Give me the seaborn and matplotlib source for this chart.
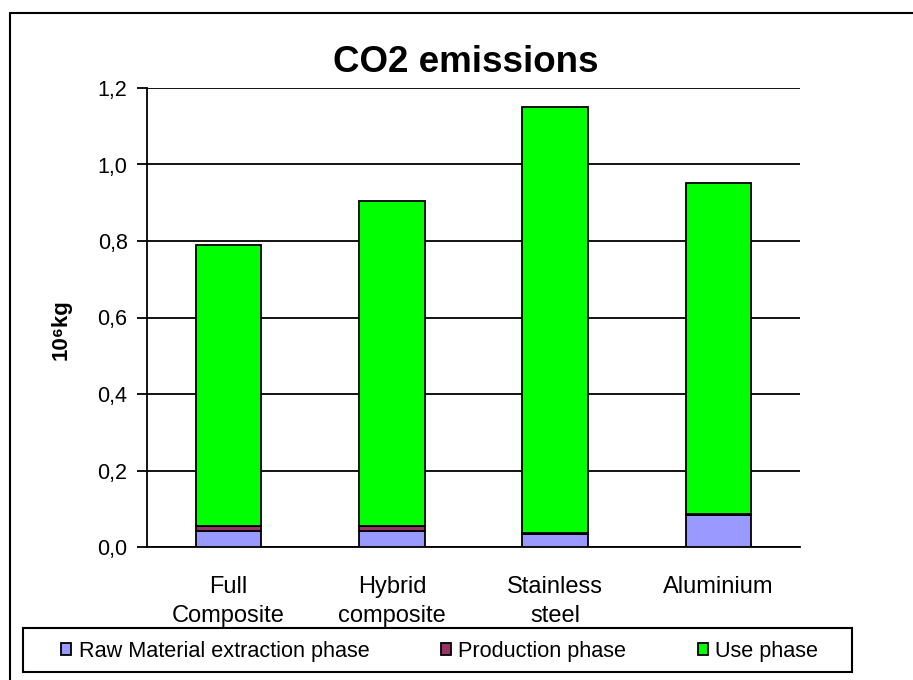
import matplotlib
matplotlib.use("Agg")
import matplotlib.pyplot as plt
from matplotlib.patches import Patch, Rectangle
from matplotlib.lines import Line2D
from matplotlib.ticker import FuncFormatter, MultipleLocator
import seaborn as sns
import pandas as pd
import numpy as np

# ---- data ----
categories = ["Full\nComposite", "Hybrid\ncomposite", "Stainless\nsteel", "Aluminium"]
raw_material = [0.041, 0.041, 0.035, 0.084]
production = [0.015, 0.015, 0.001, 0.001]
use_phase = [0.733, 0.849, 1.114, 0.867]
series_names = ["Raw Material extraction phase", "Production phase", "Use phase"]
series_colors = ["#9999FF", "#993366", "#00FF00"]
title = "CO2 emissions"
ylabel = "10\u2076kg"

sns.set_style("white")
plt.rcParams["font.family"] = ["Liberation Sans", "DejaVu Sans"]
plt.rcParams.update({"text.color": "black", "axes.labelcolor": "black",
                     "xtick.color": "black", "ytick.color": "black"})

df = pd.DataFrame({
    "cat": categories,
    "raw": raw_material,
    "prod": production,
    "use": use_phase,
})

W, H = 913, 680
fig = plt.figure(figsize=(W / 100, H / 100), dpi=100)
ax = fig.add_axes([147 / W, 1 - 547 / H, 653 / W, 459 / H])

bottom = np.zeros(len(categories))
for col, name, color in zip(["raw", "prod", "use"], series_names, series_colors):
    sns.barplot(data=df, x="cat", y=col, order=categories, color=color,
                saturation=1, width=0.4, errorbar=None, bottom=bottom,
                edgecolor="black", linewidth=1.3, ax=ax, zorder=3)
    bottom = bottom + df[col].to_numpy()

ax.set_ylim(0, 1.2)
ax.set_xlim(-0.5, len(categories) - 0.5)
ax.yaxis.set_major_locator(MultipleLocator(0.2))
ax.yaxis.set_major_formatter(FuncFormatter(lambda v, _: f"{v:.1f}".replace(".", ",")))
ax.grid(axis="y", color="black", linewidth=1.3, zorder=0)
ax.grid(axis="x", visible=False)
ax.set_axisbelow(True)

for s in ["top", "right"]:
    ax.spines[s].set_visible(False)
for s in ["left", "bottom"]:
    ax.spines[s].set_color("black")
    ax.spines[s].set_linewidth(1.3)

# ticks
ax.set_xticks(range(len(categories)))
ax.set_xticklabels(categories, fontsize=17, linespacing=1.38, color="black")
ax.tick_params(axis="x", which="major", length=0, pad=21)
ax.set_xticks(np.arange(-0.5, len(categories), 1.0), minor=True)
ax.tick_params(axis="x", which="minor", length=7, width=1.3, color="black", direction="out")
ax.tick_params(axis="y", length=7, width=1.3, color="black", direction="out",
               labelsize=15.5, labelcolor="black", pad=7, left=True)
ax.set_xlabel("")
ax.set_ylabel(ylabel, fontsize=16, fontweight="bold", color="black")
ax.yaxis.set_label_coords((72 - 147) / 653, (547 - 330) / 459)

fig.text(466 / W, 1 - 72 / H, title, fontsize=26.5, fontweight="bold",
         ha="center", va="baseline", color="black")

# legend frame and entries
fig.add_artist(Rectangle((23 / W, 1 - 672 / H), 829 / W, 44 / H, transform=fig.transFigure,
                         facecolor="white", edgecolor="black", linewidth=1.5, zorder=5))
handles = [Patch(facecolor=c, edgecolor="black", linewidth=1.3) for c in series_colors]
leg = fig.legend(handles, series_names, loc="center left",
                 bbox_to_anchor=(61 / W, 1 - 651 / H), ncol=3, fontsize=15.6,
                 frameon=False, handlelength=0.48, handleheight=0.48,
                 handletextpad=0.33, borderaxespad=0, borderpad=0,
                 columnspacing=3.3, labelcolor="black")
leg.set_zorder(6)

# outer chart border (only left and top visible within the image)
fig.add_artist(Line2D([10 / W, 10 / W], [-0.1, 1 - 13 / H], color="black",
                      linewidth=1.5, transform=fig.transFigure))
fig.add_artist(Line2D([10 / W, 1.1], [1 - 13 / H, 1 - 13 / H], color="black",
                      linewidth=1.5, transform=fig.transFigure))

fig.savefig("out.png", dpi=100)
